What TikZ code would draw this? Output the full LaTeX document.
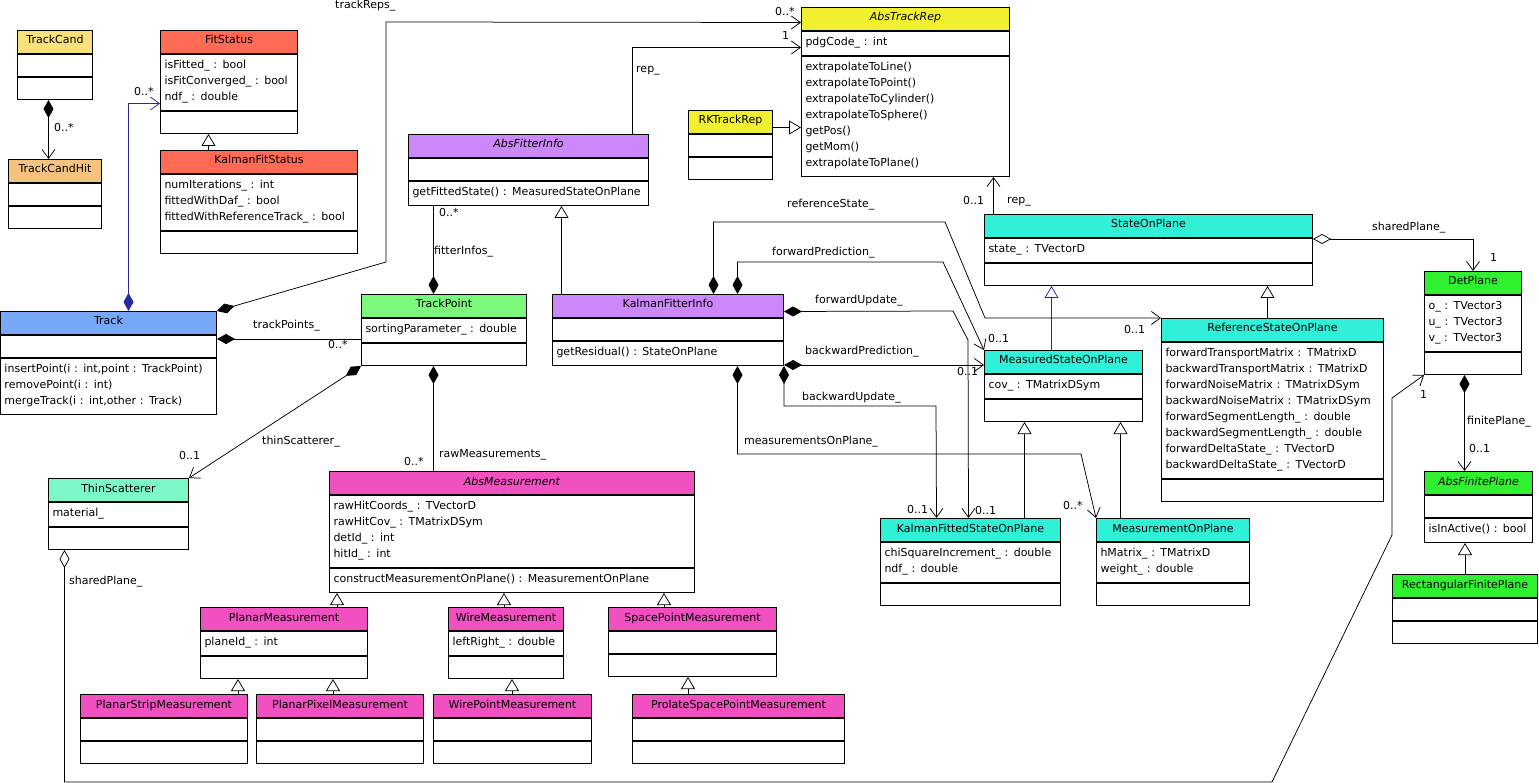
\documentclass[tikz,border=0pt]{standalone}
\usepackage{fontspec}
\setmainfont{DejaVu Sans}
\usetikzlibrary{arrows.meta,positioning}

\definecolor{candyellow}{HTML}{F9E17A}
\definecolor{hitorange}{HTML}{F6C37E}
\definecolor{fitred}{HTML}{FF6A55}
\definecolor{repyellow}{HTML}{F0F030}
\definecolor{fitterviolet}{HTML}{CC88F8}
\definecolor{trackblue}{HTML}{78A8F8}
\definecolor{pointgreen}{HTML}{7CF87C}
\definecolor{scattermint}{HTML}{7CF8C8}
\definecolor{measpink}{HTML}{F050C0}
\definecolor{stateturq}{HTML}{30F0D8}
\definecolor{planegreen}{HTML}{30F030}
\definecolor{linkblue}{HTML}{2828A0}

\newcommand{\clsstrut}{\rule[-6pt]{0pt}{16pt}}
% name, colour, top left, width, title, attributes, operations
\newcommand{\umlclass}[7]{%
  \pgfmathsetmacro{\clstw}{#4-8}%
  \node[clshead, fill=#2, minimum width=#4pt, anchor=north west] (#1) at (#3) {#5};
  \ifx\relax#6\relax
    \node[clsempty, minimum width=#4pt, below=0pt of #1] (#1-a) {};
  \else
    \node[clspart, text width=\clstw pt, below=0pt of #1] (#1-a) {#6};
  \fi
  \ifx\relax#7\relax
    \node[clsempty, minimum width=#4pt, below=0pt of #1-a] (#1-o) {};
  \else
    \node[clspart, text width=\clstw pt, below=0pt of #1-a] (#1-o) {#7};
  \fi
}

\tikzset{
  every node/.style={font=\fontsize{11}{16}\selectfont},
  clshead/.style={draw, line width=1pt, minimum height=23pt, inner sep=0pt,
    text height=10pt, text depth=6pt},
  clsempty/.style={draw, line width=1pt, minimum height=22pt, inner sep=0pt},
  clspart/.style={draw, line width=1pt, inner xsep=4pt, inner ysep=4pt, align=left,
    execute at begin node=\clsstrut, execute at end node=\clsstrut},
  lbl/.style={inner sep=0pt, anchor=west, text height=8pt, text depth=2pt},
  link/.style={line width=0.75pt},
  composite/.style={{Diamond[length=18pt,width=10pt]}-},
  compnav/.style={{Diamond[length=18pt,width=10pt]}-{Straight Barb[length=9pt,width=13pt]}},
  sharednav/.style={{Diamond[open,length=18pt,width=10pt]}-{Straight Barb[length=9pt,width=13pt]}},
  navig/.style={-{Straight Barb[length=9pt,width=13pt]}},
  inherit/.style={-{Triangle[open,length=12pt,width=14pt]}}
}

\begin{document}
\begin{tikzpicture}[x=1pt,y=-1pt]
\useasboundingbox (0,0) rectangle (1539,783);

\umlclass{TrackCand}{candyellow}{17,30}{75}{TrackCand}{}{}
\umlclass{TrackCandHit}{hitorange}{8,159}{93}{TrackCandHit}{}{}
\umlclass{FitStatus}{fitred}{160,30}{137}{FitStatus}{isFitted\_ : bool\\isFitConverged\_ : bool\\ndf\_ : double}{}
\umlclass{KalmanFitStatus}{fitred}{160,150}{197}{KalmanFitStatus}{numIterations\_ : int\\fittedWithDaf\_ : bool\\fittedWithReferenceTrack\_ : bool}{}
\umlclass{AbsTrackRep}{repyellow}{801,7}{208}{\textit{AbsTrackRep}}{pdgCode\_ : int}{extrapolateToLine()\\extrapolateToPoint()\\extrapolateToCylinder()\\extrapolateToSphere()\\getPos()\\getMom()\\extrapolateToPlane()}
\umlclass{RKTrackRep}{repyellow}{688,110}{84}{RKTrackRep}{}{}
\umlclass{AbsFitterInfo}{fitterviolet}{408,134}{240}{\textit{AbsFitterInfo}}{}{getFittedState() : MeasuredStateOnPlane}
\umlclass{KalmanFitterInfo}{fitterviolet}{552,294}{231}{KalmanFitterInfo}{}{getResidual() : StateOnPlane}
\umlclass{Track}{trackblue}{0,311}{216}{Track}{}{insertPoint(i : int,point : TrackPoint)\\removePoint(i : int)\\mergeTrack(i : int,other : Track)}
\umlclass{TrackPoint}{pointgreen}{361,294}{165}{TrackPoint}{sortingParameter\_ : double}{}
\umlclass{ThinScatterer}{scattermint}{48,478}{140}{ThinScatterer}{material\_}{}
\umlclass{AbsMeasurement}{measpink}{329,471}{365}{\textit{AbsMeasurement}}{rawHitCoords\_ : TVectorD\\rawHitCov\_ : TMatrixDSym\\detId\_ : int\\hitId\_ : int}{constructMeasurementOnPlane() : MeasurementOnPlane}
\umlclass{PlanarMeasurement}{measpink}{200,607}{167}{PlanarMeasurement}{planeId\_ : int}{}
\umlclass{PlanarStripMeasurement}{measpink}{80,694}{167}{PlanarStripMeasurement}{}{}
\umlclass{PlanarPixelMeasurement}{measpink}{256,694}{167}{PlanarPixelMeasurement}{}{}
\umlclass{WireMeasurement}{measpink}{448,607}{115}{WireMeasurement}{leftRight\_ : double}{}
\umlclass{WirePointMeasurement}{measpink}{433,694}{158}{WirePointMeasurement}{}{}
\umlclass{SpacePointMeasurement}{measpink}{608,607}{168}{SpacePointMeasurement}{}{}
\umlclass{ProlateSpacePointMeasurement}{measpink}{632,694}{212}{ProlateSpacePointMeasurement}{}{}
\umlclass{StateOnPlane}{stateturq}{984,214}{328}{StateOnPlane}{state\_ : TVectorD}{}
\umlclass{MeasuredStateOnPlane}{stateturq}{984,350}{158}{MeasuredStateOnPlane}{cov\_ : TMatrixDSym}{}
\umlclass{ReferenceStateOnPlane}{stateturq}{1161,318}{222}{ReferenceStateOnPlane}{forwardTransportMatrix : TMatrixD\\backwardTransportMatrix : TMatrixD\\forwardNoiseMatrix : TMatrixDSym\\backwardNoiseMatrix : TMatrixDSym\\forwardSegmentLength\_ : double\\backwardSegmentLength\_ : double\\forwardDeltaState\_ : TVectorD\\backwardDeltaState\_ : TVectorD}{}
\umlclass{KalmanFittedStateOnPlane}{stateturq}{880,518}{180}{KalmanFittedStateOnPlane}{chiSquareIncrement\_ : double\\ndf\_ : double}{}
\umlclass{MeasurementOnPlane}{stateturq}{1096,518}{153}{MeasurementOnPlane}{hMatrix\_ : TMatrixD\\weight\_ : double}{}
\umlclass{DetPlane}{planegreen}{1424,271}{97}{DetPlane}{o\_ : TVector3\\u\_ : TVector3\\v\_ : TVector3}{}
\umlclass{AbsFinitePlane}{planegreen}{1424,471}{108}{\textit{AbsFinitePlane}}{}{isInActive() : bool}
\umlclass{RectangularFinitePlane}{planegreen}{1392,574}{145}{RectangularFinitePlane}{}{}

% inheritance
\draw[link,inherit] ([yshift=-5.5pt]RKTrackRep.east) -- ([yshift=-5.5pt]RKTrackRep.east -| AbsTrackRep-o.west);
\draw[link,inherit] ([xshift=-50.5pt]KalmanFitStatus.north) -- ([xshift=-50.5pt]KalmanFitStatus.north |- FitStatus-o.south);
\draw[link,inherit] ([xshift=-106.5pt]KalmanFitterInfo.north) -- ([xshift=-106.5pt]KalmanFitterInfo.north |- AbsFitterInfo-o.south);
\draw[link,inherit] (PlanarMeasurement.north -| 337,0) -- (AbsMeasurement-o.south -| 337,0);
\draw[link,inherit] (WireMeasurement.north -| 504,0) -- (AbsMeasurement-o.south -| 504,0);
\draw[link,inherit] (SpacePointMeasurement.north -| 664,0) -- (AbsMeasurement-o.south -| 664,0);
\draw[link,inherit] (PlanarStripMeasurement.north -| 238,0) -- (PlanarMeasurement-o.south -| 238,0);
\draw[link,inherit] (PlanarPixelMeasurement.north -| 333,0) -- (PlanarMeasurement-o.south -| 333,0);
\draw[link,inherit] (WirePointMeasurement.north -| 512,0) -- (WireMeasurement-o.south -| 512,0);
\draw[link,inherit] (ProlateSpacePointMeasurement.north -| 688,0) -- (SpacePointMeasurement-o.south -| 688,0);
\draw[link,inherit,linkblue] ([xshift=-12pt]MeasuredStateOnPlane.north) -- ([xshift=-12pt]MeasuredStateOnPlane.north |- StateOnPlane-o.south);
\draw[link,inherit] ([xshift=-5pt]ReferenceStateOnPlane.north) -- ([xshift=-5pt]ReferenceStateOnPlane.north |- StateOnPlane-o.south);
\draw[link,inherit] ([xshift=54pt]KalmanFittedStateOnPlane.north) -- ([xshift=54pt]KalmanFittedStateOnPlane.north |- MeasuredStateOnPlane-o.south);
\draw[link,inherit] ([xshift=-52.5pt]MeasurementOnPlane.north) -- ([xshift=-52.5pt]MeasurementOnPlane.north |- MeasuredStateOnPlane-o.south);
\draw[link,inherit] (RectangularFinitePlane.north) -- (RectangularFinitePlane.north |- AbsFinitePlane-o.south);

% associations
\draw[link,compnav] ([xshift=-6.5pt]TrackCand-o.south) -- ([xshift=-6.5pt]TrackCand-o.south |- TrackCandHit.north);
\draw[link,compnav,linkblue] ([xshift=20pt]Track.north) |- ([yshift=-21pt]FitStatus-a.west);
\draw[link,compnav] (Track.north east) -- (386,262) -- (386,22) -- ([yshift=-3.5pt]AbsTrackRep.west);
\draw[link,navig] ([xshift=104pt]AbsFitterInfo.north) |- ([yshift=-4pt]AbsTrackRep-a.west);
\draw[link,composite] ([xshift=-10.5pt]TrackPoint.north) -- ([xshift=-10.5pt]TrackPoint.north |- AbsFitterInfo-o.south);
\draw[link,composite] ([yshift=7.5pt]Track-a.east) -- ([yshift=7.5pt]Track-a.east -| TrackPoint-a.west);
\draw[link,compnav] (TrackPoint-o.south west) -- (ThinScatterer.north east);
\draw[link,composite] ([xshift=-10.5pt]TrackPoint-o.south) -- ([xshift=-10.5pt]TrackPoint-o.south |- AbsMeasurement.north);
\draw[link,sharednav] ([xshift=-54pt]ThinScatterer-o.south) |- (1272,782) -- (1392,535) -- (1392,398) -- (DetPlane-o.south west);
\draw[link,sharednav] ([yshift=-1pt]StateOnPlane-a.north east) -| (DetPlane.north);
\draw[link,compnav] ([xshift=-8.5pt]DetPlane-o.south) -- ([xshift=-8.5pt]DetPlane-o.south |- AbsFinitePlane.north);
\draw[link,navig] ([xshift=-155pt]StateOnPlane.north) -- ([xshift=-155pt]StateOnPlane.north |- AbsTrackRep-o.south);
\draw[link,compnav] ([xshift=45.5pt]KalmanFitterInfo.north) |- (945,222) -- (985,318) -- (ReferenceStateOnPlane.north west);
\draw[link,compnav] ([xshift=69.5pt]KalmanFitterInfo.north) |- (943,262) -- (MeasuredStateOnPlane.north west);
\draw[link,compnav] ([yshift=-5.5pt]KalmanFitterInfo.east) -- (953,311) -- (968,340) -- ([xshift=-2pt]KalmanFittedStateOnPlane.north);
\draw[link,compnav] ([yshift=-11.5pt]KalmanFitterInfo-o.east) -- ([yshift=-11.5pt]KalmanFitterInfo-o.east -| MeasuredStateOnPlane.west);
\draw[link,compnav] (KalmanFitterInfo-o.south east) |- (936,406) -- ([xshift=-34pt]KalmanFittedStateOnPlane.north);
\draw[link,compnav] ([xshift=69.5pt]KalmanFitterInfo-o.south) |- (1081,454) -- (MeasurementOnPlane.north west);

% role names and multiplicities
\node[lbl] (r-trackReps) at (335,6) {trackReps\_};
\node[lbl] (m-candHit) at (54,129) {0..*};
\node[lbl] (m-fitStatus) at (134,93) {0..*};
\node[lbl] (m-trackReps) at (775,13) {0..*};
\node[lbl] (m-rep) at (782,37) {1};
\node[lbl] (r-rep) at (636,70) {rep\_};
\node[lbl] (m-fitterInfos) at (439,214) {0..*};
\node[lbl] (r-fitterInfos) at (434,252) {fitterInfos\_};
\node[lbl] (r-referenceState) at (787,205) {referenceState\_};
\node[lbl] (m-stateRep) at (963,202) {0..1};
\node[lbl] (r-stateRep) at (1007,201) {rep\_};
\node[lbl] (r-forwardPrediction) at (772,253) {forwardPrediction\_};
\node[lbl] (r-sharedPlane) at (1372,228) {sharedPlane\_};
\node[lbl] (m-sharedPlane) at (1490,259) {1};
\node[lbl] (r-trackPoints) at (253,326) {trackPoints\_};
\node[lbl] (m-trackPoints) at (328,346) {0..*};
\node[lbl] (r-thinScatterer) at (262,441) {thinScatterer\_};
\node[lbl] (m-thinScatterer) at (179,456) {0..1};
\node[lbl] (r-rawMeasurements) at (439,454) {rawMeasurements\_};
\node[lbl] (m-rawMeasurements) at (404,462) {0..*};
\node[lbl] (r-forwardUpdate) at (815,301) {forwardUpdate\_};
\node[lbl] (r-backwardPrediction) at (805,352) {backwardPrediction\_};
\node[lbl] (m-forwardPrediction) at (988,340) {0..1};
\node[lbl] (m-backwardPrediction) at (957,372) {0..1};
\node[lbl] (m-referenceState) at (1124,331) {0..1};
\node[lbl] (r-backwardUpdate) at (802,397) {backwardUpdate\_};
\node[lbl] (r-measurementsOnPlane) at (744,441) {measurementsOnPlane\_};
\node[lbl] (m-backwardUpdate) at (907,510) {0..1};
\node[lbl] (m-forwardUpdate) at (975,511) {0..1};
\node[lbl] (m-measurementsOnPlane) at (1063,506) {0..*};
\node[lbl] (m-scatterPlane) at (1420,395) {1};
\node[lbl] (r-finitePlane) at (1467,421) {finitePlane\_};
\node[lbl] (m-finitePlane) at (1469,449) {0..1};
\node[lbl] (r-scatterPlane) at (69,581) {sharedPlane\_};
\end{tikzpicture}
\end{document}
